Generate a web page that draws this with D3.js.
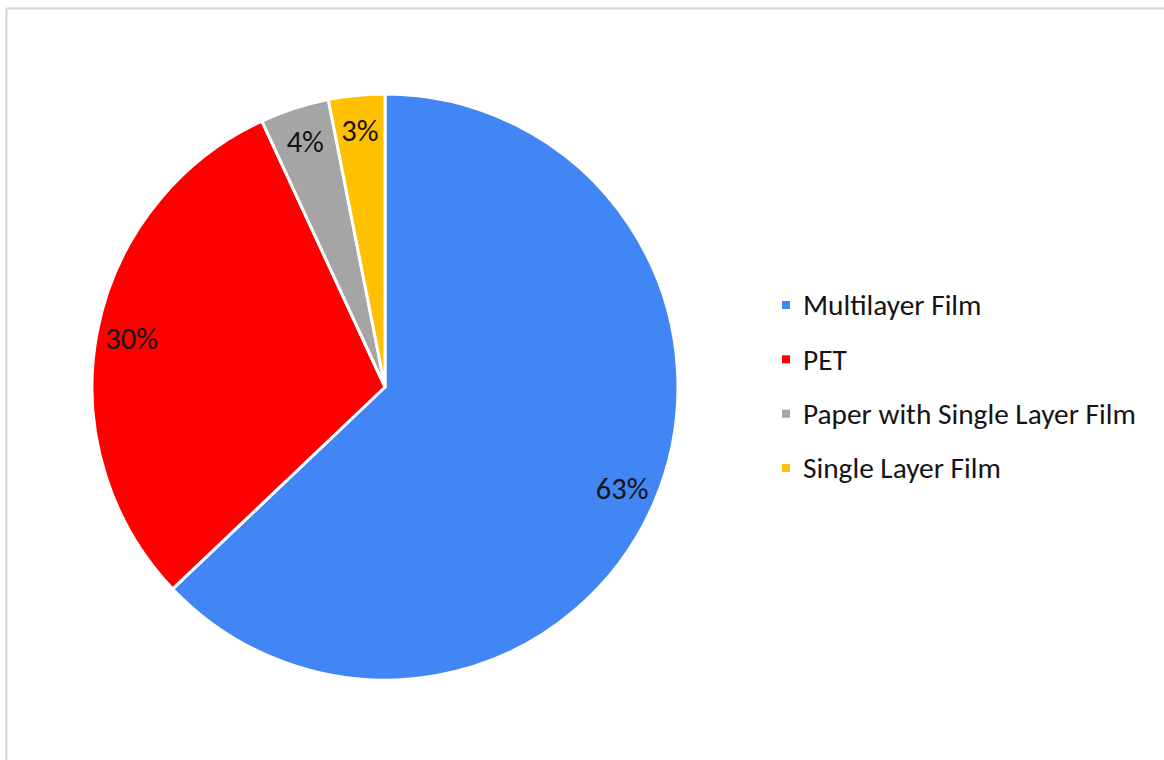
<!DOCTYPE html>
<html>
<head>
<meta charset="utf-8">
<script src="https://cdn.jsdelivr.net/npm/d3@7"></script>
<style>
html,body{margin:0;padding:0;background:#fff;}
svg{display:block;}
</style>
</head>
<body>
<svg id="chart" width="1164" height="760"></svg>
<script>
const categories = ["Multilayer Film", "PET", "Paper with Single Layer Film", "Single Layer Film"];
const values = [62.9, 30.2, 3.8, 3.1];
const colors = ["#4285f4", "#ff0000", "#a5a5a5", "#ffc000"];

const svg = d3.select("#chart");
const FONT = "Carlito, Lato, 'Open Sans', sans-serif";
const pct = v => d3.format(".0f")(v) + "%";

// frame (top and left edges visible)
svg.append("line").attr("x1", 6).attr("x2", 1164).attr("y1", 8.5).attr("y2", 8.5)
  .attr("stroke", "#d6d6d6").attr("stroke-width", 2);
svg.append("line").attr("x1", 6.5).attr("x2", 6.5).attr("y1", 8).attr("y2", 760)
  .attr("stroke", "#d6d6d6").attr("stroke-width", 2);

const cx = 385, cy = 387, R = 293;
const data = categories.map((c, i) => ({ name: c, value: values[i], color: colors[i] }));
const pie = d3.pie().value(d => d.value).sort(null);
const arcs = pie(data);
const arc = d3.arc().innerRadius(0).outerRadius(R);
const labelArc = d3.arc().innerRadius(258).outerRadius(258);

const g = svg.append("g").attr("transform", `translate(${cx},${cy})`);
g.selectAll("path").data(arcs).join("path")
  .attr("d", arc)
  .attr("fill", d => d.data.color)
  .attr("stroke", "#fff")
  .attr("stroke-width", 3)
  .attr("stroke-linejoin", "round");

g.selectAll("text").data(arcs).join("text")
  .attr("transform", d => `translate(${labelArc.centroid(d)})`)
  .attr("text-anchor", "middle")
  .attr("dy", "0.35em")
  .attr("font-family", FONT)
  .attr("font-size", 25)
  .attr("fill", "#141414")
  .text(d => pct(d.data.value));

// legend
const leg = svg.append("g");
const rowY = d3.scalePoint().domain(categories).range([305, 468]);
const items = leg.selectAll("g").data(data).join("g")
  .attr("transform", d => `translate(782,${rowY(d.name)})`);
items.append("rect").attr("x", 0).attr("y", -4).attr("width", 8).attr("height", 8)
  .attr("fill", d => d.color);
const texts = items.append("text").attr("x", 21).attr("dy", "0.35em")
  .attr("font-family", FONT).attr("font-size", 25).attr("fill", "#141414")
  .text(d => d.name);

// fit font to reference width of longest legend entry (~333px)
const longest = texts.filter(d => d.name === "Paper with Single Layer Film").node();
const w = longest.getComputedTextLength();
const fs = 25 * 333 / w;
texts.attr("font-size", fs);
g.selectAll("text").attr("font-size", fs * 1.04);
</script>
</body>
</html>
